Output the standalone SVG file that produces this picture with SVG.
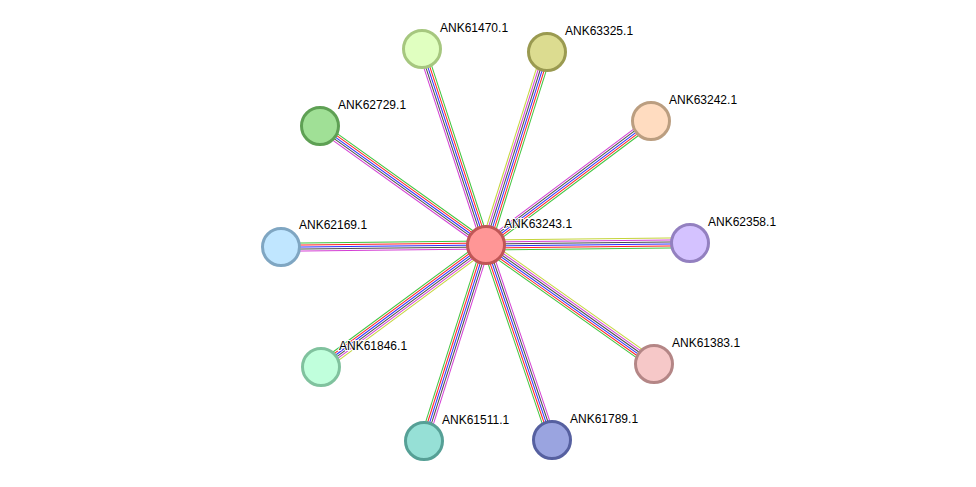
<svg xmlns="http://www.w3.org/2000/svg" width="976" height="487" viewBox="0 0 976 487">
<defs>
<style>
.e line{stroke-width:1.6}
.g{stroke:#3ec43e}.r{stroke:#ff2020}.b{stroke:#2e2eff}.k{stroke:#4a4a4a}.m{stroke:#d43ed4}.y{stroke:#c4d43a}
.n{stroke-width:3}
text{font-family:"Liberation Sans",Arial,sans-serif;font-size:12px;fill:#000;paint-order:stroke;stroke:#fff;stroke-width:2px}
</style>
<g id="b5"><line class="g" x1="0" y1="4" x2="206" y2="4"/><line class="r" x1="0" y1="2" x2="206" y2="2"/><line class="b" x1="0" y1="0" x2="206" y2="0"/><line class="k" x1="0" y1="-2" x2="206" y2="-2"/><line class="m" x1="0" y1="-4" x2="206" y2="-4"/></g>
<g id="b6"><line class="g" x1="0" y1="5" x2="206" y2="5"/><line class="r" x1="0" y1="3" x2="206" y2="3"/><line class="b" x1="0" y1="1" x2="206" y2="1"/><line class="k" x1="0" y1="-1" x2="206" y2="-1"/><line class="m" x1="0" y1="-3" x2="206" y2="-3"/><line class="y" x1="0" y1="-5" x2="206" y2="-5"/></g>
</defs>
<rect width="976" height="487" fill="#fff"/>
<g id="connectors" class="e">
<use href="#b5" transform="translate(486,245) rotate(-108.1)"/>
<use href="#b6" transform="translate(486,245) rotate(-72.5)"/>
<use href="#b5" transform="translate(486,245) rotate(-36.9)"/>
<use href="#b5" transform="translate(486,245) rotate(-144.4)"/>
<use href="#b5" transform="translate(486,245) rotate(179.4)"/>
<use href="#b6" transform="translate(486,245) rotate(-0.6)"/>
<use href="#b6" transform="translate(486,245) rotate(143.5)"/>
<use href="#b6" transform="translate(486,245) rotate(35.3)"/>
<use href="#b5" transform="translate(486,245) rotate(107.6)"/>
<use href="#b5" transform="translate(486,245) rotate(71.3)"/>
</g>
<g id="ANK61470"><circle class="n" cx="422" cy="49" r="18.5" fill="#e0ffc0" stroke="#a6c77f"/><text x="440" y="32">ANK61470.1</text></g>
<g id="ANK63325"><circle class="n" cx="547" cy="52" r="18.5" fill="#dcdc90" stroke="#9a9a50"/><text x="565" y="35">ANK63325.1</text></g>
<g id="ANK63242"><circle class="n" cx="651" cy="121" r="18.5" fill="#ffdcc0" stroke="#bb9e80"/><text x="669" y="104">ANK63242.1</text></g>
<g id="ANK62729"><circle class="n" cx="320" cy="126" r="18.5" fill="#a0e096" stroke="#5ea054"/><text x="338" y="109">ANK62729.1</text></g>
<g id="ANK62169"><circle class="n" cx="281" cy="247" r="18.5" fill="#c0e6ff" stroke="#7fa6c2"/><text x="299" y="229">ANK62169.1</text></g>
<g id="ANK62358"><circle class="n" cx="690" cy="243" r="18.5" fill="#d4c2ff" stroke="#9380c0"/><text x="708" y="226">ANK62358.1</text></g>
<g id="ANK61846"><circle class="n" cx="321" cy="367" r="18.5" fill="#c0ffdc" stroke="#80c29e"/><text x="339" y="350">ANK61846.1</text></g>
<g id="ANK61383"><circle class="n" cx="654" cy="364" r="18.5" fill="#f6c8c8" stroke="#b48686"/><text x="672" y="347">ANK61383.1</text></g>
<g id="ANK61511"><circle class="n" cx="424" cy="441" r="18.5" fill="#96e0d6" stroke="#56a096"/><text x="442" y="424">ANK61511.1</text></g>
<g id="ANK61789"><circle class="n" cx="552" cy="440" r="18.5" fill="#9aa4e0" stroke="#5660a0"/><text x="570" y="423">ANK61789.1</text></g>
<g id="ANK63243"><circle class="n" cx="486" cy="245" r="18.5" fill="#ff9696" stroke="#c05656"/><text x="504" y="228">ANK63243.1</text></g>
</svg>
